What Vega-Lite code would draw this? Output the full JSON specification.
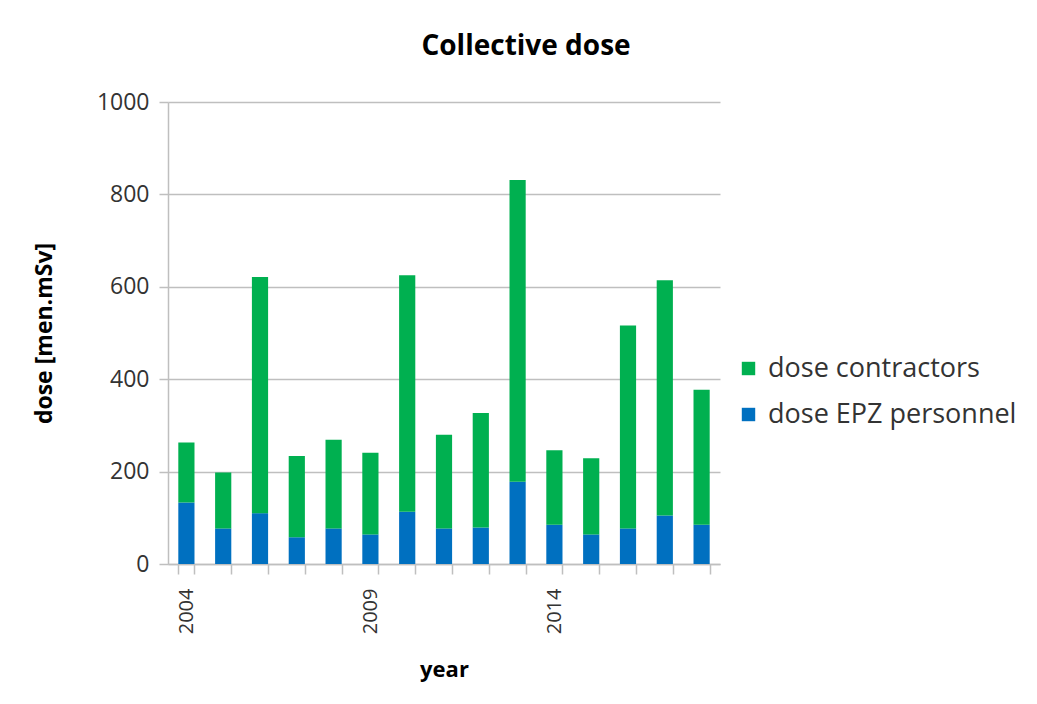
{
  "$schema": "https://vega.github.io/schema/vega-lite/v6.json",
  "description": "Collective dose per year, stacked: EPZ personnel and contractors.",
  "autosize": "none",
  "width": 552,
  "height": 462,
  "padding": {"left": 168, "top": 102, "right": 317, "bottom": 140},
  "background": "white",
  "title": {
    "text": "Collective dose",
    "fontSize": 28,
    "fontWeight": "bold",
    "font": "Open Sans",
    "color": "#000000",
    "anchor": "middle",
    "dx": 82,
    "offset": 30
  },
  "data": {
    "values": [
      {"year": 2004, "series": "dose EPZ personnel", "dose": 133},
      {"year": 2004, "series": "dose contractors", "dose": 130},
      {"year": 2005, "series": "dose EPZ personnel", "dose": 77},
      {"year": 2005, "series": "dose contractors", "dose": 121},
      {"year": 2006, "series": "dose EPZ personnel", "dose": 110},
      {"year": 2006, "series": "dose contractors", "dose": 511},
      {"year": 2007, "series": "dose EPZ personnel", "dose": 58},
      {"year": 2007, "series": "dose contractors", "dose": 176},
      {"year": 2008, "series": "dose EPZ personnel", "dose": 77},
      {"year": 2008, "series": "dose contractors", "dose": 192},
      {"year": 2009, "series": "dose EPZ personnel", "dose": 64},
      {"year": 2009, "series": "dose contractors", "dose": 177},
      {"year": 2010, "series": "dose EPZ personnel", "dose": 113},
      {"year": 2010, "series": "dose contractors", "dose": 512},
      {"year": 2011, "series": "dose EPZ personnel", "dose": 77},
      {"year": 2011, "series": "dose contractors", "dose": 203},
      {"year": 2012, "series": "dose EPZ personnel", "dose": 79},
      {"year": 2012, "series": "dose contractors", "dose": 248},
      {"year": 2013, "series": "dose EPZ personnel", "dose": 178},
      {"year": 2013, "series": "dose contractors", "dose": 653},
      {"year": 2014, "series": "dose EPZ personnel", "dose": 85},
      {"year": 2014, "series": "dose contractors", "dose": 161},
      {"year": 2015, "series": "dose EPZ personnel", "dose": 64},
      {"year": 2015, "series": "dose contractors", "dose": 165},
      {"year": 2016, "series": "dose EPZ personnel", "dose": 77},
      {"year": 2016, "series": "dose contractors", "dose": 439},
      {"year": 2017, "series": "dose EPZ personnel", "dose": 105},
      {"year": 2017, "series": "dose contractors", "dose": 509},
      {"year": 2018, "series": "dose EPZ personnel", "dose": 85},
      {"year": 2018, "series": "dose contractors", "dose": 292}
    ]
  },
  "mark": {"type": "bar"},
  "encoding": {
    "x": {
      "field": "year",
      "type": "ordinal",
      "title": "year",
      "scale": {"paddingInner": 0.56, "paddingOuter": 0.28},
      "axis": {
        "labelExpr": "datum.value % 5 == 4 ? datum.label : ''",
        "labelAngle": -90,
        "labelAlign": "right",
        "labelBaseline": "middle",
        "labelFontSize": 20,
        "labelPadding": 14,
        "tickBand": "extent",
        "tickSize": 10,
        "titlePadding": 26
      }
    },
    "y": {
      "field": "dose",
      "type": "quantitative",
      "aggregate": "sum",
      "title": "dose [men.mSv]",
      "scale": {"domain": [0, 1000], "nice": false},
      "axis": {
        "values": [0, 200, 400, 600, 800, 1000],
        "format": "d",
        "labelFontSize": 23,
        "tickSize": 9,
        "labelPadding": 10,
        "titlePadding": 40,
        "titleFontSize": 23
      }
    },
    "color": {
      "field": "series",
      "type": "nominal",
      "title": null,
      "scale": {
        "domain": ["dose contractors", "dose EPZ personnel"],
        "range": ["#00b050", "#0070c0"]
      },
      "legend": {
        "orient": "none",
        "legendX": 567,
        "legendY": 253,
        "symbolType": "square",
        "symbolSize": 180,
        "symbolStrokeWidth": 0,
        "rowPadding": 18,
        "labelFontSize": 27,
        "labelLimit": 400,
        "labelColor": "#333333",
        "labelFont": "Open Sans",
        "labelOffset": 6
      }
    },
    "order": {"field": "series", "sort": "ascending"}
  },
  "config": {
    "view": {"stroke": null},
    "axis": {
      "labelFont": "Open Sans",
      "labelFontSize": 22,
      "labelColor": "#333333",
      "titleFont": "Open Sans",
      "titleFontSize": 22,
      "titleFontWeight": "bold",
      "titleColor": "#000000",
      "domainColor": "#bfbfbf",
      "tickColor": "#bfbfbf",
      "gridColor": "#bfbfbf",
      "domainWidth": 1.5,
      "tickWidth": 1.5,
      "gridWidth": 1.5
    },
    "axisX": {"grid": false},
    "axisY": {"grid": true, "domain": true}
  }
}
